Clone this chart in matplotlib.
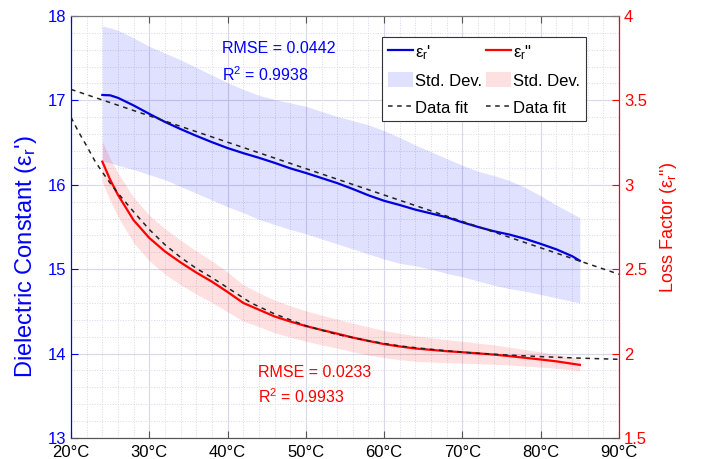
import matplotlib
matplotlib.use('Agg')
import matplotlib.pyplot as plt
import numpy as np
from matplotlib.ticker import MultipleLocator, FuncFormatter

plt.rcParams['font.family'] = ['Liberation Sans', 'DejaVu Sans']
plt.rcParams['mathtext.fontset'] = 'custom'
plt.rcParams['mathtext.rm'] = 'Liberation Sans'
plt.rcParams['mathtext.it'] = 'Liberation Sans:italic'

# Measured temperature points (°C)
temp = [24, 25, 26, 28, 30, 32, 34, 36, 38, 40, 42, 44, 46, 48, 50, 52, 54, 56,
        58, 60, 62, 64, 66, 68, 70, 72, 74, 76, 78, 80, 82, 84, 85]

# Dielectric constant eps_r' (mean, band limits)
eps1 = [17.064, 17.06, 17.03, 16.94, 16.84, 16.745, 16.66, 16.58, 16.505, 16.435,
        16.375, 16.32, 16.26, 16.195, 16.14, 16.08, 16.02, 15.95, 15.875, 15.81,
        15.76, 15.705, 15.66, 15.615, 15.555, 15.50, 15.45, 15.41, 15.36, 15.30,
        15.235, 15.155, 15.10]
eps1_hi = [17.88, 17.86, 17.83, 17.74, 17.64, 17.56, 17.48, 17.39, 17.30, 17.21,
           17.13, 17.06, 17.01, 16.97, 16.93, 16.87, 16.81, 16.76, 16.71, 16.64,
           16.56, 16.47, 16.39, 16.31, 16.23, 16.16, 16.11, 16.05, 15.97, 15.87,
           15.76, 15.66, 15.61]
eps1_lo = [16.28, 16.26, 16.23, 16.18, 16.12, 16.06, 15.98, 15.90, 15.82, 15.74,
           15.67, 15.59, 15.53, 15.47, 15.42, 15.36, 15.30, 15.24, 15.18, 15.12,
           15.07, 15.04, 15.00, 14.95, 14.91, 14.86, 14.81, 14.77, 14.74, 14.70,
           14.66, 14.62, 14.60]

# Loss factor eps_r'' (mean, std dev)
eps2 = [3.137, 3.03, 2.94, 2.79, 2.685, 2.605, 2.54, 2.48, 2.426, 2.365,
        2.30, 2.26, 2.22, 2.19, 2.163, 2.14, 2.118, 2.095, 2.075, 2.056,
        2.042, 2.03, 2.022, 2.014, 2.008, 2.001, 1.994, 1.985, 1.975, 1.965,
        1.954, 1.94, 1.933]
eps2_std = [0.12, 0.125, 0.13, 0.135, 0.135, 0.135, 0.132, 0.128, 0.123, 0.118,
            0.108, 0.10, 0.097, 0.093, 0.09, 0.088, 0.086, 0.085, 0.083, 0.08,
            0.078, 0.076, 0.072, 0.068, 0.065, 0.061, 0.058, 0.053, 0.049, 0.045,
            0.041, 0.037, 0.035]

# Fitted curves
fit1_t = [20, 90]
fit1 = [17.13, 14.94]
fit2_t = [20, 21, 22, 23, 24, 25, 26, 28, 30, 32, 34, 36, 38, 40, 43, 46, 50,
          54, 58, 62, 66, 70, 75, 80, 85, 90]
fit2 = [3.40, 3.31, 3.23, 3.145, 3.075, 3.01, 2.95, 2.84, 2.735, 2.645, 2.57,
        2.505, 2.45, 2.39, 2.30, 2.235, 2.165, 2.113, 2.075, 2.045, 2.025, 2.008,
        1.993, 1.982, 1.973, 1.966]

blue = '#0000ff'
red = '#ff0000'
temp = np.array(temp)
eps2 = np.array(eps2)
eps2_std = np.array(eps2_std)

fig = plt.figure(figsize=(7.01, 4.59), dpi=100)
ax = fig.add_axes([0.1013, 0.0458, 0.7817, 0.9194])
ax2 = ax.twinx()

# left axis: dielectric constant
f1 = ax.fill_between(temp, eps1_lo, eps1_hi, color=blue, alpha=0.12, linewidth=0)
l1, = ax.plot(temp, eps1, color='#0000dd', lw=1.6)
d1, = ax.plot(fit1_t, fit1, '--', color='#222222', lw=1.1, dashes=(3, 3))

# right axis: loss factor
f2 = ax2.fill_between(temp, eps2 - eps2_std, eps2 + eps2_std, color=red,
                      alpha=0.12, linewidth=0)
l2, = ax2.plot(temp, eps2, color=red, lw=1.6)
d2, = ax2.plot(fit2_t, fit2, '--', color='#222222', lw=1.1, dashes=(3, 3))

ax.set_xlim(20, 90)
ax.set_ylim(13, 18)
ax2.set_ylim(1.5, 4)

ax.xaxis.set_major_locator(MultipleLocator(10))
ax.xaxis.set_minor_locator(MultipleLocator(2))
ax.yaxis.set_major_locator(MultipleLocator(1))
ax.yaxis.set_minor_locator(MultipleLocator(0.2))
ax2.yaxis.set_major_locator(MultipleLocator(0.5))
ax.xaxis.set_major_formatter(FuncFormatter(lambda v, p: f'{v:.0f}°C'))
ax2.yaxis.set_major_formatter(FuncFormatter(lambda v, p: f'{v:g}'))

ax.grid(which='major', color='#d8d8ea', lw=0.8)
ax.grid(which='minor', color='#d8d8ea', lw=0.7, ls=':')
ax.set_axisbelow(True)

ax.tick_params(axis='x', which='major', direction='in', top=True, length=5,
               labelsize=12, pad=5, color='#555555')
ax.tick_params(axis='x', which='minor', length=0)
ax.tick_params(axis='y', which='major', direction='in', length=5, labelsize=12,
               colors=blue)
ax.tick_params(axis='y', which='minor', length=0)
ax2.tick_params(axis='y', direction='in', length=5, labelsize=12, colors=red)

for a in (ax, ax2):
    a.spines['top'].set_color('#777777')
    a.spines['bottom'].set_color('#555555')
    a.spines['left'].set_color(blue)
    a.spines['right'].set_color(red)

ax.set_ylabel("Dielectric Constant (ε$_\\mathregular{r}$')", color=blue,
              fontsize=17)
ax.yaxis.set_label_coords(-0.058, 0.43)
ax2.set_ylabel('Loss Factor (ε$_\\mathregular{r}$")', color=red, fontsize=13,
               rotation=90, labelpad=8)

# goodness of fit annotations
ax.text(0.2755, 0.924, 'RMSE = 0.0442', transform=ax.transAxes, color=blue,
        fontsize=11.5, va='center')
ax.text(0.2755, 0.862, 'R$^\\mathregular{2}$ = 0.9938', transform=ax.transAxes,
        color=blue, fontsize=11.5, va='center')
ax.text(0.341, 0.154, 'RMSE = 0.0233', transform=ax.transAxes, color=red,
        fontsize=11.5, va='center')
ax.text(0.341, 0.097, 'R$^\\mathregular{2}$ = 0.9933', transform=ax.transAxes,
        color=red, fontsize=11.5, va='center')

leg = ax2.legend([l1, f1, d1, l2, f2, d2],
                 ["ε$_\\mathregular{r}$'", 'Std. Dev.', 'Data fit',
                  'ε$_\\mathregular{r}$"', 'Std. Dev.', 'Data fit'],
                 ncol=2, loc='upper left', bbox_to_anchor=(0.5675, 0.95),
                 borderaxespad=0, fontsize=12, handlelength=1.5,
                 handleheight=1.0, handletextpad=0.15, columnspacing=0.2,
                 labelspacing=0.65, borderpad=0.35, fancybox=False,
                 framealpha=1, edgecolor='#333333')
leg.get_frame().set_linewidth(0.8)

fig.savefig('out.png', dpi=100)
